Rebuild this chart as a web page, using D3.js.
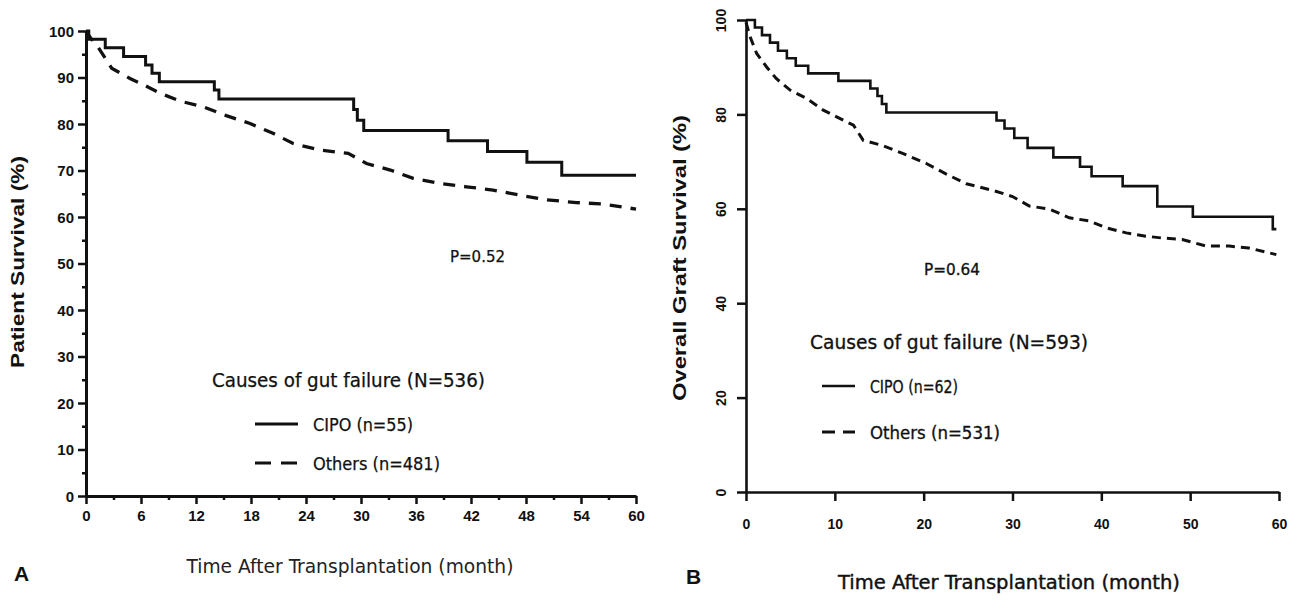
<!DOCTYPE html>
<html>
<head>
<meta charset="utf-8">
<script src="https://cdn.jsdelivr.net/npm/d3@7"></script>
<style>
  body { margin: 0; background: #fff; }
  svg { display: block; }
</style>
</head>
<body>
<svg id="chart" width="1295" height="601"></svg>
<script>
// ---------- DATA ----------
// Panel A: Patient survival (%)
const aCipoTime  = [0, 0.3, 2.1, 4.1, 6.5, 7.2, 8.0, 14.0, 14.5, 29.2, 29.6, 30.3, 39.5, 43.8, 48.1, 51.9, 60];
const aCipoValue = [100, 98.2, 96.4, 94.5, 92.7, 90.9, 89.1, 87.3, 85.4, 83.1, 80.8, 78.6, 76.4, 74.1, 71.8, 69.0, 69.0];
const aOthTime   = [0, 0.5, 1.3, 2.8, 4.8, 6.3, 8.1, 10.3, 12.8, 15.3, 17.9, 20.4, 22.6, 25.5, 28.6, 30.6, 33.2, 35.7, 38.6, 41.5, 44.4, 47.3, 50.3, 53.5, 56.4, 60];
const aOthValue  = [100, 98.5, 96.6, 92.0, 89.8, 88.4, 86.6, 84.9, 83.7, 81.8, 80.1, 78.0, 75.8, 74.4, 73.7, 71.5, 70.1, 68.3, 67.2, 66.5, 65.8, 64.7, 63.7, 63.1, 62.8, 61.7];
// Panel B: Overall graft survival (%)
const bCipoTime  = [0, 1.0, 1.8, 2.7, 3.6, 4.6, 5.6, 7.0, 10.4, 14.0, 14.8, 15.3, 15.8, 28.2, 29.1, 30.2, 31.7, 34.6, 37.6, 38.9, 42.4, 46.3, 50.3, 59.3, 59.7];
const bCipoValue = [100, 98.4, 96.8, 95.2, 93.5, 91.9, 90.3, 88.7, 87.1, 85.5, 83.9, 82.2, 80.4, 78.7, 77.0, 75.0, 72.9, 70.9, 68.9, 66.9, 64.8, 60.5, 58.3, 55.7, 55.7];
const bOthTime   = [0, 0.45, 1.2, 2.3, 3.4, 5.0, 6.8, 8.7, 10.6, 12.1, 13.2, 15.4, 17.7, 20.3, 22.5, 24.8, 27.8, 30.0, 31.9, 34.2, 36.4, 38.7, 40.5, 42.8, 45.0, 46.9, 49.1, 51.8, 54.4, 56.6, 59.7];
const bOthValue  = [99.5, 96.5, 92.9, 90.1, 87.6, 85.1, 83.4, 80.9, 79.1, 77.7, 74.5, 73.4, 71.7, 69.6, 67.4, 65.3, 63.9, 62.6, 60.6, 59.9, 58.1, 57.4, 56.0, 54.9, 54.2, 53.8, 53.5, 52.1, 52.1, 51.7, 50.3];

const aXTicks = [0, 6, 12, 18, 24, 30, 36, 42, 48, 54, 60];
const aXMinor = [3, 9, 15, 21, 27, 33, 39, 45, 51, 57];
const aYTicks = [0, 10, 20, 30, 40, 50, 60, 70, 80, 90, 100];
const aYMinor = [5, 15, 25, 35, 45, 55, 65, 75, 85, 95];
const bXTicks = [0, 10, 20, 30, 40, 50, 60];
const bYTicks = [0, 20, 40, 60, 80, 100];

const aLegendTitle = "Causes of gut failure (N=536)";
const aLegendLabels = ["CIPO (n=55)", "Others (n=481)"];
const bLegendTitle = "Causes of gut failure (N=593)";
const bLegendLabels = ["CIPO (n=62)", "Others (n=531)"];
const aPValue = "P=0.52";
const bPValue = "P=0.64";

// ---------- DRAW ----------
const svg = d3.select("#chart");
const tickFont = "'Liberation Sans', Arial, sans-serif";
const legFont = "'Liberation Sans Narrow', 'DejaVu Sans Condensed', sans-serif";

function zip(t, v) { return t.map((d, i) => ({t: d, v: v[i]})); }

// Panel A
(function () {
  const x = d3.scaleLinear().domain([0, 60]).range([86, 636]);
  const y = d3.scaleLinear().domain([0, 100]).range([496, 31]);
  const g = svg.append("g");
  const sw = 3;

  g.append("g").attr("transform", `translate(0,${y(0)})`)
    .call(d3.axisBottom(x).tickValues(aXTicks).tickSize(8).tickSizeOuter(0).tickPadding(6));
  g.append("g").attr("transform", `translate(0,${y(0)})`)
    .call(d3.axisBottom(x).tickValues(aXMinor).tickSize(4).tickSizeOuter(0).tickFormat(""))
    .call(s => s.select(".domain").remove());
  const ya = g.append("g").attr("transform", `translate(${x(0)},0)`)
    .call(d3.axisLeft(y).tickValues(aYTicks).tickSize(8).tickSizeOuter(0).tickPadding(4));
  g.append("g").attr("transform", `translate(${x(0)},0)`)
    .call(d3.axisLeft(y).tickValues(aYMinor).tickSize(4).tickSizeOuter(0).tickFormat(""))
    .call(s => s.select(".domain").remove());
  g.selectAll(".domain").attr("stroke", "#111").attr("stroke-width", sw);
  g.selectAll(".tick line").attr("stroke", "#111").attr("stroke-width", 2.5);
  g.selectAll(".tick text").attr("font-family", tickFont).attr("font-weight", "bold")
    .attr("font-size", 15).attr("fill", "#111");
  ya.selectAll(".tick text").attr("dy", "0.36em");

  g.append("path").datum(zip(aCipoTime, aCipoValue))
    .attr("d", d3.line().x(d => x(d.t)).y(d => y(d.v)).curve(d3.curveStepAfter)).attr("fill", "none")
    .attr("stroke", "#111").attr("stroke-width", sw);
  g.append("path").datum(zip(aOthTime, aOthValue))
    .attr("d", d3.line().x(d => x(d.t)).y(d => y(d.v)).curve(d3.curveLinear)).attr("fill", "none")
    .attr("stroke", "#111").attr("stroke-width", sw + 0.3).attr("stroke-dasharray", "12 9");

  g.append("text").attr("transform", "translate(24,262) rotate(-90)")
    .attr("text-anchor", "middle").attr("font-family", "'Liberation Sans', Arial, sans-serif")
    .attr("font-weight", "bold").attr("font-size", 18).attr("fill", "#111")
    .attr("textLength", 212).attr("lengthAdjust", "spacingAndGlyphs")
    .text("Patient Survival (%)");
  g.append("text").attr("x", 350).attr("y", 573).attr("text-anchor", "middle")
    .attr("font-family", legFont).attr("font-size", 19).attr("fill", "#222")
    .attr("textLength", 327).attr("lengthAdjust", "spacingAndGlyphs")
    .text("Time After Transplantation (month)");
  g.append("text").attr("x", 14).attr("y", 581)
    .attr("font-family", "'Liberation Sans', Arial, sans-serif").attr("font-weight", "bold")
    .attr("font-size", 21).attr("fill", "#111").text("A");

  g.append("text").attr("x", 212).attr("y", 387).attr("font-family", legFont)
    .attr("font-size", 19).attr("fill", "#111").attr("stroke", "#111").attr("stroke-width", 0.25)
    .attr("textLength", 273).attr("lengthAdjust", "spacingAndGlyphs").text(aLegendTitle);
  g.append("line").attr("x1", 255).attr("x2", 298).attr("y1", 424).attr("y2", 424)
    .attr("stroke", "#111").attr("stroke-width", sw);
  g.append("line").attr("x1", 255).attr("x2", 298).attr("y1", 463).attr("y2", 463)
    .attr("stroke", "#111").attr("stroke-width", sw).attr("stroke-dasharray", "16 10");
  g.append("text").attr("x", 313).attr("y", 431).attr("font-family", legFont)
    .attr("font-size", 18).attr("fill", "#111").attr("stroke", "#111").attr("stroke-width", 0.25)
    .attr("textLength", 100).attr("lengthAdjust", "spacingAndGlyphs").text(aLegendLabels[0]);
  g.append("text").attr("x", 313).attr("y", 470).attr("font-family", legFont)
    .attr("font-size", 18).attr("fill", "#111").attr("stroke", "#111").attr("stroke-width", 0.25)
    .attr("textLength", 127).attr("lengthAdjust", "spacingAndGlyphs").text(aLegendLabels[1]);
  g.append("text").attr("x", 450).attr("y", 262).attr("font-family", legFont)
    .attr("font-size", 16).attr("fill", "#111").attr("stroke", "#111").attr("stroke-width", 0.25)
    .attr("textLength", 55).attr("lengthAdjust", "spacingAndGlyphs").text(aPValue);
})();

// Panel B
(function () {
  const x = d3.scaleLinear().domain([0, 60]).range([746, 1279]);
  const y = d3.scaleLinear().domain([0, 100]).range([492, 20]);
  const g = svg.append("g");
  const sw = 2.6;

  g.append("g").attr("transform", `translate(0,${y(0)})`)
    .call(d3.axisBottom(x).tickValues(bXTicks).tickSize(9).tickSizeOuter(0).tickPadding(18));
  const ya = g.append("g").attr("transform", `translate(${x(0)},0)`)
    .call(d3.axisLeft(y).tickValues(bYTicks).tickSize(9).tickSizeOuter(0));
  g.selectAll(".domain").attr("stroke", "#111").attr("stroke-width", sw);
  g.selectAll(".tick line").attr("stroke", "#111").attr("stroke-width", 2.5);
  g.selectAll(".tick text").attr("font-family", tickFont).attr("font-weight", "bold")
    .attr("font-size", 14).attr("fill", "#111");
  ya.selectAll(".tick text")
    .attr("text-anchor", "middle")
    .attr("x", null).attr("dy", null).attr("y", null)
    .attr("transform", "translate(-20,0) rotate(-90)");

  g.append("path").datum(zip(bCipoTime, bCipoValue))
    .attr("d", d3.line().x(d => x(d.t)).y(d => y(d.v)).curve(d3.curveStepAfter)).attr("fill", "none")
    .attr("stroke", "#111").attr("stroke-width", sw);
  g.append("path").datum(zip(bOthTime, bOthValue))
    .attr("d", d3.line().x(d => x(d.t)).y(d => y(d.v)).curve(d3.curveLinear)).attr("fill", "none")
    .attr("stroke", "#111").attr("stroke-width", sw + 0.4).attr("stroke-dasharray", "9 6");

  g.append("text").attr("transform", "translate(686,258) rotate(-90)")
    .attr("text-anchor", "middle").attr("font-family", "'Liberation Sans', Arial, sans-serif")
    .attr("font-weight", "bold").attr("font-size", 19).attr("fill", "#111")
    .attr("textLength", 286).attr("lengthAdjust", "spacingAndGlyphs")
    .text("Overall Graft Survival (%)");
  g.append("text").attr("x", 1009).attr("y", 589).attr("text-anchor", "middle")
    .attr("font-family", legFont).attr("font-size", 20).attr("fill", "#111")
    .attr("stroke", "#111").attr("stroke-width", 0.4)
    .attr("textLength", 342).attr("lengthAdjust", "spacingAndGlyphs")
    .text("Time After Transplantation (month)");
  g.append("text").attr("x", 686).attr("y", 584)
    .attr("font-family", "'Liberation Sans', Arial, sans-serif").attr("font-weight", "bold")
    .attr("font-size", 21).attr("fill", "#111").text("B");

  g.append("text").attr("x", 810).attr("y", 349).attr("font-family", legFont)
    .attr("font-size", 19).attr("fill", "#111").attr("stroke", "#111").attr("stroke-width", 0.3)
    .attr("textLength", 278).attr("lengthAdjust", "spacingAndGlyphs").text(bLegendTitle);
  g.append("line").attr("x1", 822).attr("x2", 855).attr("y1", 386).attr("y2", 386)
    .attr("stroke", "#111").attr("stroke-width", sw);
  g.append("line").attr("x1", 822).attr("x2", 855).attr("y1", 432).attr("y2", 432)
    .attr("stroke", "#111").attr("stroke-width", sw + 0.6).attr("stroke-dasharray", "13 8");
  g.append("text").attr("x", 870).attr("y", 393).attr("font-family", legFont)
    .attr("font-size", 17).attr("fill", "#111").attr("stroke", "#111").attr("stroke-width", 0.3)
    .attr("textLength", 88).attr("lengthAdjust", "spacingAndGlyphs").text(bLegendLabels[0]);
  g.append("text").attr("x", 870).attr("y", 439).attr("font-family", legFont)
    .attr("font-size", 17).attr("fill", "#111").attr("stroke", "#111").attr("stroke-width", 0.3)
    .attr("textLength", 130).attr("lengthAdjust", "spacingAndGlyphs").text(bLegendLabels[1]);
  g.append("text").attr("x", 924).attr("y", 275).attr("font-family", legFont)
    .attr("font-size", 16).attr("fill", "#111").attr("stroke", "#111").attr("stroke-width", 0.3)
    .attr("textLength", 56).attr("lengthAdjust", "spacingAndGlyphs").text(bPValue);
})();
</script>
</body>
</html>
